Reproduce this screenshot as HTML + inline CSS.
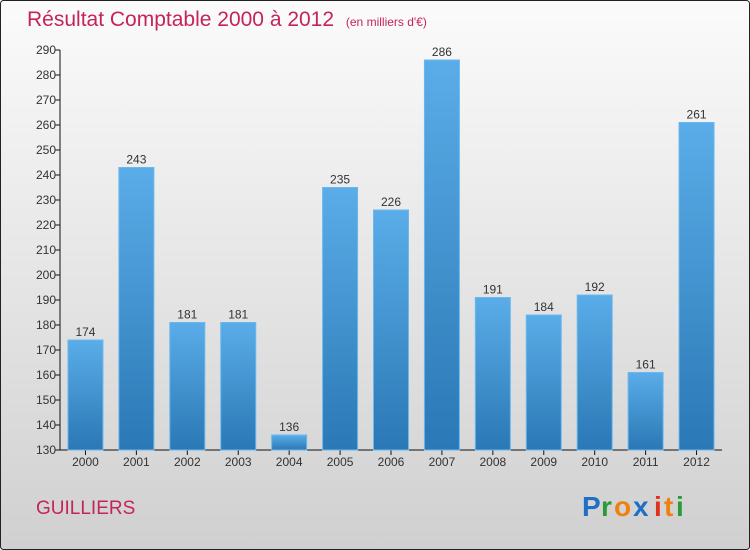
<!DOCTYPE html>
<html><head><meta charset="utf-8"><style>
body{margin:0;}
#c{width:750px;height:550px;position:relative;overflow:hidden;font-family:"Liberation Sans",sans-serif;}
</style></head><body>
<div id="c">
<svg id="s" width="750" height="550" xmlns="http://www.w3.org/2000/svg">
<defs>
<linearGradient id="bg" x1="0" y1="0" x2="0" y2="1"><stop offset="0" stop-color="#fbfbfb"/><stop offset="1" stop-color="#d0d0d0"/></linearGradient>
<linearGradient id="bar" x1="0" y1="0" x2="0" y2="1"><stop offset="0" stop-color="#5aade8"/><stop offset="1" stop-color="#2a78b5"/></linearGradient>
</defs>
<rect x="0.5" y="0.5" width="749" height="549" rx="3" fill="url(#bg)" stroke="#222"/>
<text x="27" y="26" font-size="21" fill="#c5245a">Résultat Comptable 2000 à 2012 <tspan font-size="12" dx="6">(en milliers d'€)</tspan></text>
<g id="ax"></g><g id="bars"></g>
<text x="36" y="514" font-size="19" fill="#c5245a">GUILLIERS</text>
<g font-size="28" font-weight="bold">
<text x="582" y="516" fill="#1f6fc6">P</text><text x="601" y="516" fill="#2a9a3a">r</text><text x="614" y="516" fill="#f08010">o</text><text x="633" y="516" fill="#1f6fc6">x</text><text x="654" y="516" fill="#e03020">i</text><text x="664" y="516" fill="#f08010">t</text><text x="676" y="516" fill="#2a9a3a">i</text>
</g>
</svg>
</div>
<script>
const years=["2000","2001","2002","2003","2004","2005","2006","2007","2008","2009","2010","2011","2012"];
const values=[174,243,181,181,136,235,226,286,191,184,192,161,261];
const ticks=[130,140,150,160,170,180,190,200,210,220,230,240,250,260,270,280,290];
const NS="http://www.w3.org/2000/svg";
const x0=60,x1=722,yTop=50,yBot=450,vmin=130,vmax=290;
const band=(x1-x0)/years.length;
function y(v){return yBot-(v-vmin)/(vmax-vmin)*(yBot-yTop);}
function mk(t,a,p){const e=document.createElementNS(NS,t);for(const k in a)e.setAttribute(k,a[k]);p.appendChild(e);return e;}
const ax=document.getElementById('ax'),bars=document.getElementById('bars');
const ya=mk('line',{x1:x0,y1:yTop,x2:x0,y2:yBot,stroke:'#111'},ax);


const xa=mk('line',{x1:x0,y1:yBot,x2:x1,y2:yBot,stroke:'#111'},ax);


ticks.forEach(t=>{
  mk('line',{x1:x0-5,y1:y(t),x2:x0,y2:y(t),stroke:'#111'},ax);
  const tx=mk('text',{x:x0-4,y:y(t)+4,'font-size':12,'text-anchor':'end',fill:'#333'},ax);
  tx.textContent=t;
  
  
});
years.forEach((yr,i)=>{
  const cx=x0+band*(i+0.5),v=values[i];
  mk('line',{x1:cx,y1:yBot,x2:cx,y2:yBot+5,stroke:'#111'},ax);
  const r=mk('rect',{x:cx-17.5,y:y(v),width:35,height:yBot-y(v),fill:'url(#bar)',stroke:'#6bb8ee','stroke-width':1},bars);
  
  
  const lb=mk('text',{x:cx,y:y(v)-4,'font-size':12,'text-anchor':'middle',fill:'#333'},bars);
  lb.textContent=v;
  
  
  const xl=mk('text',{x:cx,y:yBot+16,'font-size':12,'text-anchor':'middle',fill:'#333'},ax);
  xl.textContent=yr;
  
  
});
</script>
</body></html>
